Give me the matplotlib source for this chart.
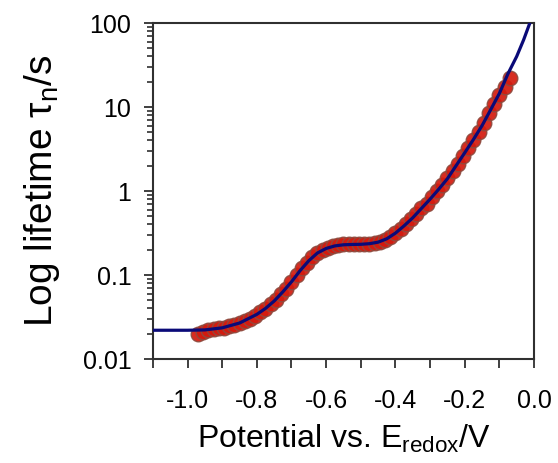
"""
Electron lifetime vs. potential: measured points with fitted curve on a log axis
"""

import matplotlib
matplotlib.use("Agg")
import matplotlib.pyplot as plt
from matplotlib.ticker import MultipleLocator, FixedLocator, FixedFormatter, LogLocator, NullFormatter

plt.rcParams["font.family"] = ["Liberation Sans", "DejaVu Sans"]
plt.rcParams["axes.unicode_minus"] = False
plt.rcParams["mathtext.fontset"] = "custom"
plt.rcParams["mathtext.rm"] = "Liberation Sans"

# measured lifetimes
potential = [-0.970, -0.955, -0.940, -0.925, -0.910, -0.895, -0.880, -0.865, -0.850, -0.835,
             -0.820, -0.805, -0.790, -0.775, -0.760, -0.745, -0.730, -0.715, -0.700, -0.685,
             -0.670, -0.655, -0.640, -0.625, -0.610, -0.595, -0.580, -0.565, -0.550, -0.535,
             -0.520, -0.505, -0.490, -0.475, -0.460, -0.445, -0.430, -0.415, -0.400, -0.385,
             -0.370, -0.355, -0.340, -0.325, -0.310, -0.295, -0.280, -0.265, -0.250, -0.235,
             -0.220, -0.205, -0.190, -0.175, -0.160, -0.145, -0.130, -0.115, -0.100, -0.085,
             -0.070]
lifetime = [0.0200, 0.0212, 0.0220, 0.0226, 0.0231, 0.0237, 0.0245, 0.0254, 0.0266, 0.0282,
            0.0303, 0.0328, 0.0358, 0.0398, 0.0448, 0.0510, 0.0590, 0.0690, 0.0820, 0.0990,
            0.120, 0.140, 0.162, 0.183, 0.199, 0.211, 0.221, 0.227, 0.231, 0.233,
            0.232, 0.231, 0.233, 0.237, 0.242, 0.250, 0.264, 0.285, 0.315, 0.353,
            0.402, 0.460, 0.530, 0.620, 0.710, 0.840, 1.00, 1.18, 1.42, 1.72,
            2.10, 2.60, 3.25, 4.10, 5.10, 6.50, 8.50, 11.0, 14.0, 17.5,
            22.0]

# fitted model curve
fit_potential = [-1.100, -1.000, -0.950, -0.900, -0.850, -0.800, -0.775, -0.750, -0.725, -0.700,
                 -0.675, -0.650, -0.625, -0.600, -0.575, -0.550, -0.525, -0.500, -0.475, -0.450,
                 -0.425, -0.400, -0.375, -0.350, -0.325, -0.300, -0.275, -0.250, -0.225, -0.200,
                 -0.175, -0.150, -0.125, -0.100, -0.075, -0.050, -0.030, -0.012]
fit_lifetime = [0.0220, 0.0220, 0.0222, 0.0235, 0.0268, 0.0340, 0.0400, 0.0490, 0.0630, 0.0830,
                0.113, 0.148, 0.183, 0.207, 0.222, 0.229, 0.231, 0.232, 0.236, 0.246,
                0.270, 0.315, 0.385, 0.480, 0.620, 0.800, 1.05, 1.40, 2.00, 2.85,
                4.10, 6.00, 9.30, 14.5, 25.0, 40.0, 63.0, 100.0]

y_ticks = [0.01, 0.1, 1, 10, 100]
y_tick_labels = ["0.01", "0.1", "1", "10", "100"]

fig = plt.figure(figsize=(5.58, 4.63), dpi=100)
ax = fig.add_axes([0.274, 0.2246, 0.683, 0.7257])

ax.plot(potential, lifetime, "o", ms=10.5, mfc="#d41a0e", mec="#8e4a3e", mew=1.0, alpha=0.92, zorder=2)
ax.plot(fit_potential, fit_lifetime, "-", color="#0a0a78", lw=2.3, zorder=3)

ax.set_yscale("log")
ax.set_xlim(-1.1, 0.0)
ax.set_ylim(0.01, 100)

ax.xaxis.set_major_locator(MultipleLocator(0.2))
ax.xaxis.set_minor_locator(MultipleLocator(0.1))
ax.xaxis.set_major_formatter(plt.FormatStrFormatter("%.1f"))
ax.yaxis.set_major_locator(FixedLocator(y_ticks))
ax.yaxis.set_major_formatter(FixedFormatter(y_tick_labels))
ax.yaxis.set_minor_locator(LogLocator(base=10, subs=range(2, 10)))
ax.yaxis.set_minor_formatter(NullFormatter())

for side in ax.spines.values():
    side.set_linewidth(1.5)
    side.set_color("#303030")

ax.tick_params(axis="both", which="major", direction="out", length=6.5, width=1.3,
               color="#303030", labelsize=18)
ax.tick_params(axis="x", which="major", pad=15)
ax.tick_params(axis="y", which="major", pad=9)
ax.tick_params(axis="x", which="minor", direction="out", length=6.5, width=1.3, color="#303030")
ax.tick_params(axis="y", which="minor", direction="out", length=4.5, width=1.2, color="#303030")

ax.set_xlabel("Potential vs. E$_\\mathregular{redox}$/V", fontsize=23, labelpad=7)
ax.set_ylabel("Log lifetime τ$_\\mathregular{n}$/s", fontsize=28, labelpad=15)

fig.savefig("out.png", dpi=100)
